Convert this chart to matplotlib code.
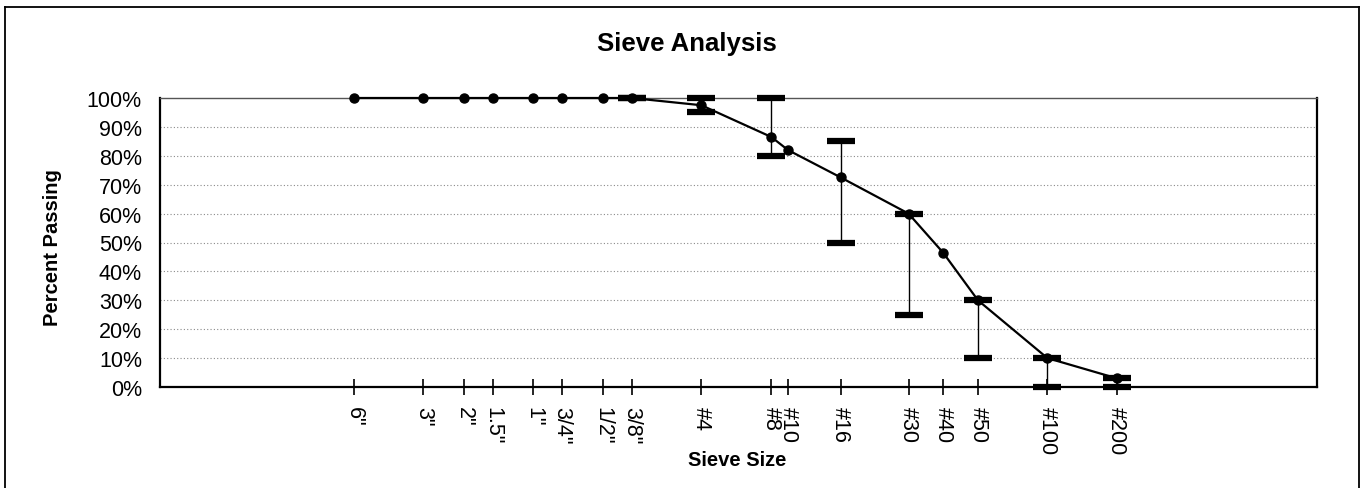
import matplotlib
matplotlib.use("Agg")
import matplotlib.pyplot as plt
from matplotlib.lines import Line2D
import numpy as np

plt.rcParams['font.family'] = ['Liberation Sans', 'DejaVu Sans']

# ---- data ----
sieve_labels = ['6"', '3"', '2"', '1.5"', '1"', '3/4"', '1/2"', '3/8"',
                '#4', '#8', '#10', '#16', '#30', '#40', '#50', '#100', '#200']
sieve_mm = [152.4, 76.2, 50.8, 38.1, 25.4, 19.05, 12.7, 9.525,
            4.75, 2.36, 2.0, 1.18, 0.6, 0.425, 0.3, 0.15, 0.075]
percent_passing = [100, 100, 100, 100, 100, 100, 100, 100,
                   97.5, 86.5, 82, 72.5, 60, 46.5, 30, 10, 3]

spec_mm = [9.525, 4.75, 2.36, 1.18, 0.6, 0.3, 0.15, 0.075]
spec_lower = [100, 95, 80, 50, 25, 10, 0, 0]
spec_upper = [100, 100, 100, 85, 60, 30, 10, 3]

y_ticks = [0, 10, 20, 30, 40, 50, 60, 70, 80, 90, 100]

# ---- figure ----
W, H = 1360, 489
fig = plt.figure(figsize=(W / 100, H / 100), dpi=100)
ax = fig.add_axes([160 / W, 1 - 388 / H, (1317 - 160) / W, (388 - 99) / H])

ax.set_xscale('log')
ax.set_xlim(10 ** 3.024, 10 ** -1.993)
ax.set_ylim(0, 100)

# grid
for v in y_ticks[1:-1]:
    ax.axhline(v, color='#8a8a8a', lw=0.8, ls=(0, (1, 2)), zorder=0)

# spec bars
mid = [(lo + hi) / 2 for lo, hi in zip(spec_lower, spec_upper)]
err = [[m - lo for m, lo in zip(mid, spec_lower)],
       [hi - m for m, hi in zip(mid, spec_upper)]]
ax.errorbar(spec_mm, mid, yerr=err, fmt='none', ecolor='black',
            elinewidth=1.0, capsize=10, capthick=4.5, zorder=3, clip_on=False)

# main curve
ax.plot(sieve_mm, percent_passing, color='black', lw=1.6, marker='o',
        markersize=6.5, zorder=4, clip_on=False)

# ticks
ax.set_xticks(sieve_mm)
ax.set_xticklabels(sieve_labels, rotation=-90, fontsize=15.5)
ax.xaxis.set_minor_locator(matplotlib.ticker.NullLocator())
ax.tick_params(axis='x', direction='inout', length=11, width=1.2, pad=8)
ax.set_yticks(y_ticks)
ax.set_yticklabels([f'{v}%' for v in y_ticks], fontsize=15.5)
ax.tick_params(axis='y', length=0, pad=13)

for s in ['left', 'bottom', 'right']:
    ax.spines[s].set_linewidth(1.6)
    ax.spines[s].set_color('black')
ax.spines['top'].set_linewidth(1.0)
ax.spines['top'].set_color('#555555')

# labels
fig.text(687 / W, 1 - 44 / H, 'Sieve Analysis', ha='center', va='center',
         fontsize=18.5, fontweight='bold')
fig.text(737 / W, 1 - 461 / H, 'Sieve Size', ha='center', va='center',
         fontsize=14.5, fontweight='bold')
fig.text(52 / W, 1 - 248 / H, 'Percent Passing', ha='center', va='center',
         fontsize=14.5, fontweight='bold', rotation=90)

# outer frame
fx0, fx1 = 5 / W, 1359 / W
fy_top, fy_bot = 1 - 8 / H, 0.0
for xs, ys in [([fx0, fx0], [fy_bot, fy_top]), ([fx0, fx1], [fy_top, fy_top]),
               ([fx1, fx1], [fy_top, fy_bot])]:
    fig.add_artist(Line2D(xs, ys, transform=fig.transFigure, color='black', lw=1.3))

fig.savefig('out.png', dpi=100)
